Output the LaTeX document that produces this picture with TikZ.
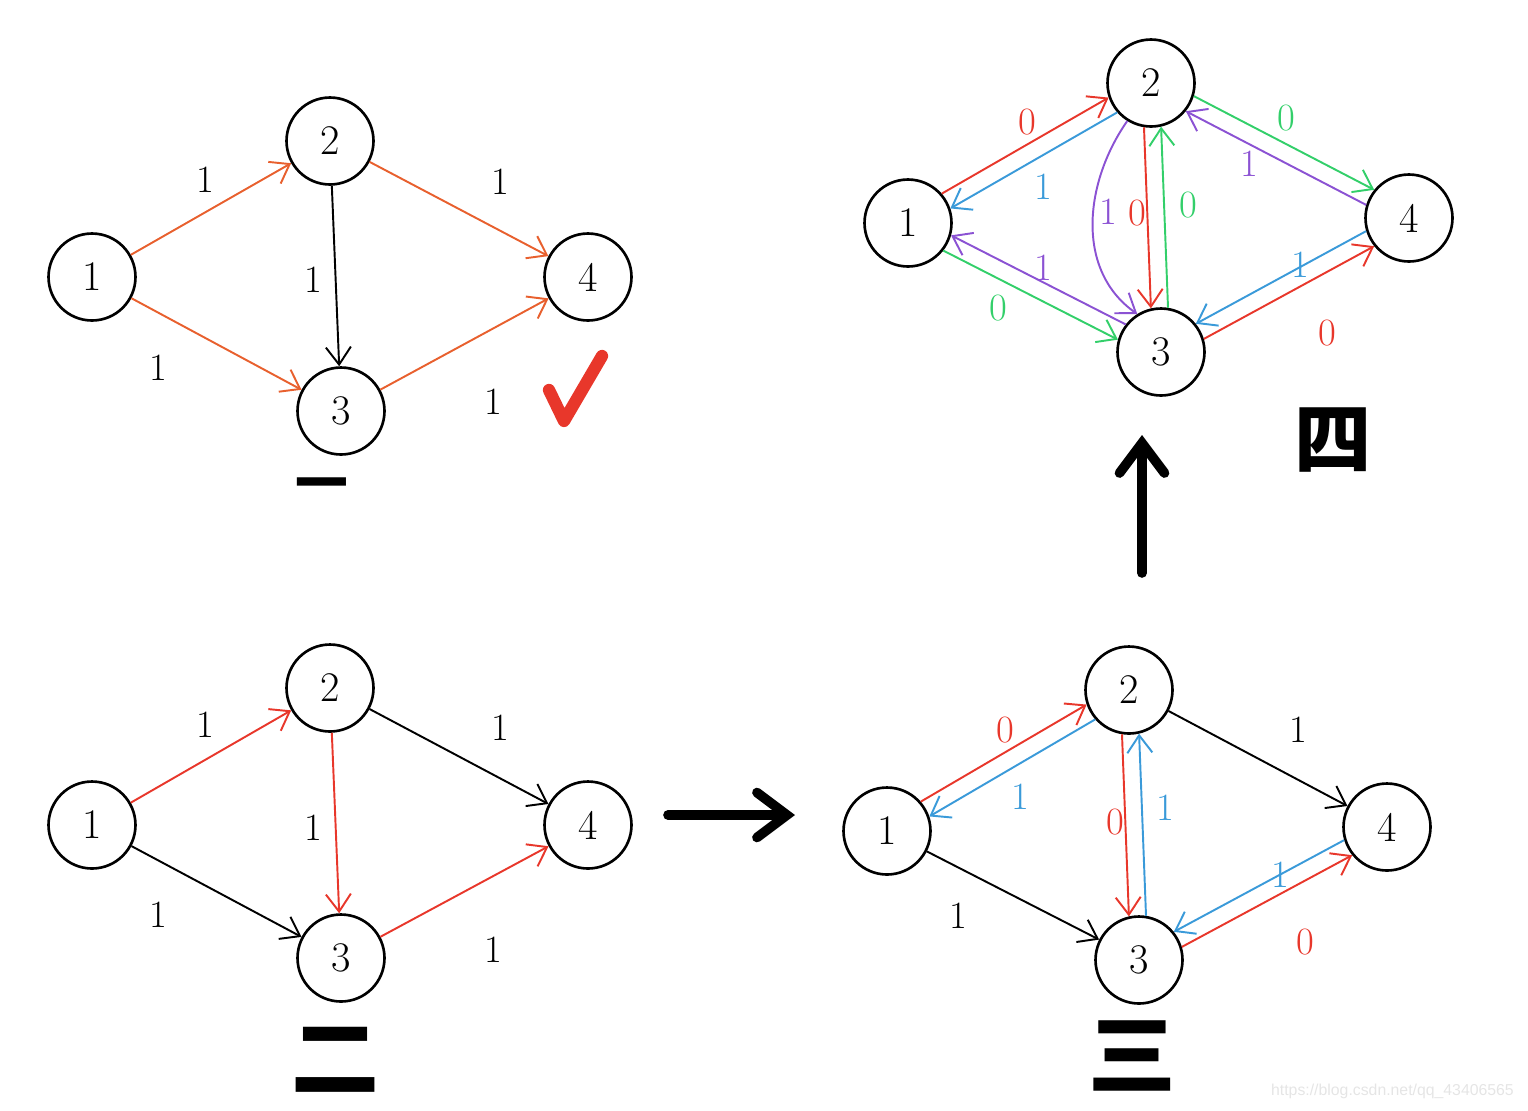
\documentclass[tikz,border=0pt]{standalone}
\usepackage{fontspec}
\setsansfont{Liberation Sans}
\newfontfamily\cjk{Noto Sans CJK SC}
\usetikzlibrary{arrows.meta}
\definecolor{hred}{HTML}{E8372B}
\definecolor{horange}{HTML}{E8602E}
\definecolor{hblue}{HTML}{3A9AD9}
\definecolor{hgreen}{HTML}{33CF6A}
\definecolor{hpurple}{HTML}{8B52D3}
\tikzset{
  vtx/.style={circle,draw,line width=1.5pt,minimum size=1.74cm,inner sep=0pt,font=\fontsize{24}{24}\selectfont},
  wt/.style={font=\fontsize{22}{22}\selectfont},
  flow/.style={->,line width=1.1pt},
  stage/.style={font=\cjk\bfseries\fontsize{50}{50}\selectfont},
  bigarrow/.style={-{Straight Barb[length=6mm,width=9mm,line cap=round]},line width=5.5pt,line cap=round},
}
\begin{document}
\begin{tikzpicture}[x=0.02cm,y=-0.02cm,>={Straight Barb[length=3.5mm,width=5mm]}]
\useasboundingbox (0,0) rectangle (1528,1110);
% graph one
\node[vtx] (a1) at (92,277) {1};
\node[vtx] (a2) at (330,141) {2};
\node[vtx] (a3) at (341,411) {3};
\node[vtx] (a4) at (588,277) {4};
\draw[flow,horange] (a1) -- (a2);
\draw[flow,horange] (a1) -- (a3);
\draw[flow,horange] (a2) -- (a4);
\draw[flow,horange] (a3) -- (a4);
\draw[flow] (a2) -- (a3);
\node[wt] (wa12) at (205,180) {1};
\node[wt] (wa24) at (500,182) {1};
\node[wt] (wa23) at (313,280) {1};
\node[wt] (wa13) at (158,368) {1};
\node[wt] (wa34) at (493,402) {1};
\coordinate (ck0) at (549,390);
\coordinate (ck1) at (564,421);
\coordinate (ck2) at (602,356);
\draw[hred,line width=7pt,line cap=round,line join=round] (ck0) -- (ck1) -- (ck2);
\node[stage,font=\cjk\bfseries\fontsize{30}{30}\selectfont] (s1) at (322,490) {一};
% graph two
\node[vtx] (b1) at (92,825) {1};
\node[vtx] (b2) at (330,688) {2};
\node[vtx] (b3) at (341,958) {3};
\node[vtx] (b4) at (588,825) {4};
\draw[flow,hred] (b1) -- (b2);
\draw[flow,hred] (b2) -- (b3);
\draw[flow,hred] (b3) -- (b4);
\draw[flow] (b1) -- (b3);
\draw[flow] (b2) -- (b4);
\node[wt] (wb12) at (205,725) {1};
\node[wt] (wb24) at (500,728) {1};
\node[wt] (wb23) at (313,828) {1};
\node[wt] (wb13) at (158,915) {1};
\node[wt] (wb34) at (493,950) {1};
\node[stage] (s2) at (335,1060) {二};
% arrow to three
\coordinate (r0) at (668,815);
\coordinate (r1) at (795,815);
\draw[bigarrow] (r0) -- (r1);
% graph three
\node[vtx] (c1) at (887,831) {1};
\node[vtx] (c2) at (1129,690) {2};
\node[vtx] (c3) at (1139,960) {3};
\node[vtx] (c4) at (1387,827) {4};
\draw[flow,hred] (c1.41) -- (c2.199);
\draw[flow,hblue] (c2.221) -- (c1.19);
\draw[flow,hred] (c2.-99) -- (c3.103);
\draw[flow,hblue] (c3.81) -- (c2.-77);
\draw[flow,hred] (c3.17) -- (c4.219);
\draw[flow,hblue] (c4.197) -- (c3.39);
\draw[flow] (c1) -- (c3);
\draw[flow] (c2) -- (c4);
\node[wt,hred] (wc12) at (1005,730) {0};
\node[wt,hblue] (wc21) at (1020,797) {1};
\node[wt,hred] (wc23) at (1115,822) {0};
\node[wt,hblue] (wc32) at (1165,808) {1};
\node[wt] (wc24) at (1298,730) {1};
\node[wt] (wc13) at (958,916) {1};
\node[wt,hblue] (wc43) at (1280,875) {1};
\node[wt,hred] (wc34) at (1305,942) {0};
\node[stage] (s3) at (1132,1056) {三};
% arrow to four
\coordinate (u0) at (1142,573);
\coordinate (u1) at (1142,435);
\draw[bigarrow] (u0) -- (u1);
% graph four
\node[vtx] (d1) at (908,223) {1};
\node[vtx] (d2) at (1151,83) {2};
\node[vtx] (d3) at (1161,352) {3};
\node[vtx] (d4) at (1409,218) {4};
\draw[flow,hred] (d1.41) -- (d2.199);
\draw[flow,hblue] (d2.221) -- (d1.19);
\draw[flow,hgreen] (d2.-17) -- (d4.141);
\draw[flow,hpurple] (d4.163) -- (d2.-39);
\draw[flow,hgreen] (d1.-38) -- (d3.164);
\draw[flow,hpurple] (d3.142) -- (d1.-16);
\draw[flow,hred] (d2.-99) -- (d3.103);
\draw[flow,hgreen] (d3.81) -- (d2.-77);
\draw[flow,hred] (d3.17) -- (d4.219);
\draw[flow,hblue] (d4.197) -- (d3.39);
\draw[flow,hpurple] (d2.238) to[out=235,in=145] (d3.122);
\node[wt,hred] (wd12) at (1027,122) {0};
\node[wt,hblue] (wd21) at (1043,187) {1};
\node[wt,hgreen] (wd24) at (1286,118) {0};
\node[wt,hpurple] (wd42) at (1249,164) {1};
\node[wt,hgreen] (wd13) at (998,308) {0};
\node[wt,hpurple] (wd31) at (1043,268) {1};
\node[wt,hpurple] (wdc) at (1108,212) {1};
\node[wt,hred] (wd23) at (1137,213) {0};
\node[wt,hgreen] (wd32) at (1188,205) {0};
\node[wt,hred] (wd34) at (1327,333) {0};
\node[wt,hblue] (wd43) at (1300,265) {1};
\node[stage,font=\cjk\bfseries\fontsize{44}{44}\selectfont] (s4) at (1333,440) {四};
\node[font=\sffamily\fontsize{9}{9}\selectfont,text=black!10,anchor=east] (wm) at (1520,1091) {https://blog.csdn.net/qq\_43406565};
\end{tikzpicture}
\end{document}
